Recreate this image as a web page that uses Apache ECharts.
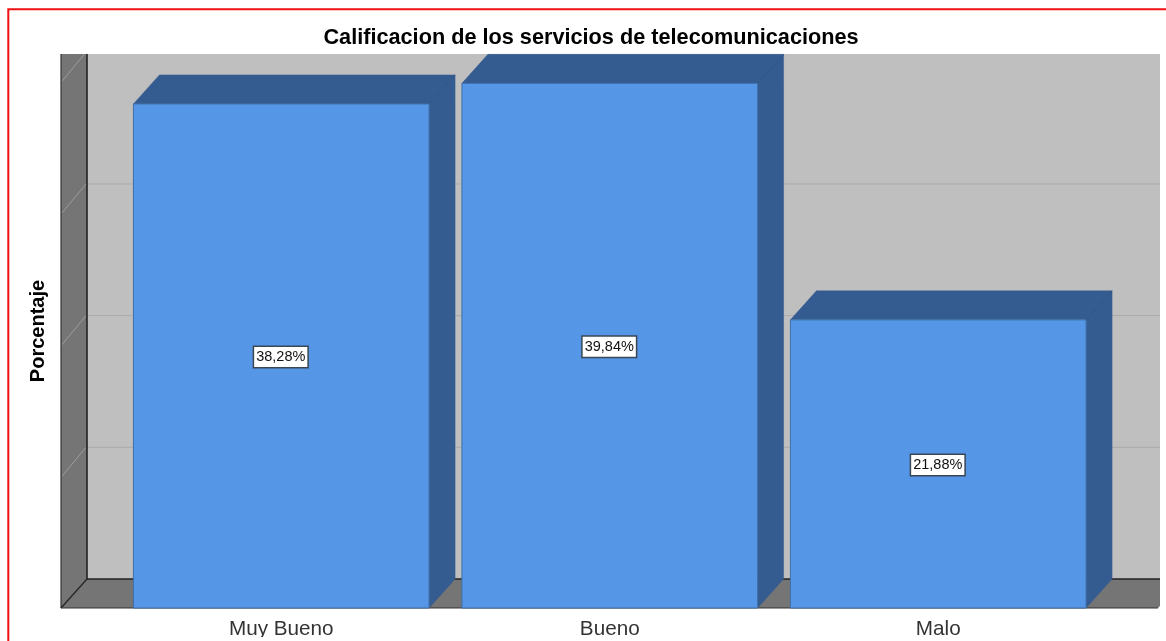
<!DOCTYPE html>
<html>
<head>
<meta charset="utf-8">
<style>html,body{margin:0;padding:0;background:#fff;overflow:hidden}#c{width:1166px;height:641px}</style>
<script src="https://cdn.jsdelivr.net/npm/echarts@6/dist/echarts.min.js"></script>
</head>
<body>
<div id="c"></div>
<script>
const categories = ['Muy Bueno', 'Bueno', 'Malo'];
const percentages = [38.28, 39.84, 21.88];
const wallTicks = [10, 20, 30, 40];
const chartTitle = 'Calificacion de los servicios de telecomunicaciones';
const valueAxisName = 'Porcentaje';

const FRONT = '#5596E6', DARK = '#345C90', EDGE = '#3F6FA8';
const WALL = '#757575', BACK = '#BFBFBF', LINE = '#222222';
const DX = 26, DY = 29, LEFT = 61, RIGHT = 1160, TOP = 54;

const chart = echarts.init(document.getElementById('c'), null, {renderer: 'canvas'});

function poly(points, fill, stroke, w) {
  return {type: 'polygon', shape: {points}, style: {fill, stroke: stroke || null, lineWidth: w || 0}};
}
function seg(x1, y1, x2, y2, stroke, w) {
  return {type: 'line', shape: {x1, y1, x2, y2}, style: {stroke, lineWidth: w}};
}

function renderFrame(params, api) {
  const base = api.coord([0, 0])[1];
  const back = base - DY;
  const kids = [
    poly([[LEFT + DX, TOP], [RIGHT, TOP], [RIGHT, back], [LEFT + DX, back]], BACK),
    poly([[LEFT, TOP], [LEFT + DX, TOP], [LEFT + DX, back], [LEFT, base]], WALL),
    poly([[LEFT, base], [LEFT + DX, back], [RIGHT, back], [RIGHT, base - 2], [RIGHT - 2, base]], WALL)
  ];
  wallTicks.forEach(function (t) {
    const y = api.coord([0, t])[1];
    const yBack = Math.max(y - DY, TOP);
    const xBack = LEFT + DX * (y - yBack) / DY;
    kids.push(seg(LEFT + 1, y, xBack - 1, yBack, '#9C9C9C', 1));
    if (y - DY >= TOP) kids.push(seg(LEFT + DX, y - DY, RIGHT, y - DY, '#ABABAB', 1));
  });
  kids.push(seg(LEFT + DX, TOP, LEFT + DX, back, LINE, 1.6));
  kids.push(seg(LEFT + DX, back, RIGHT, back, LINE, 1.6));
  kids.push(seg(LEFT, TOP, LEFT, base, '#333333', 1.2));
  kids.push(seg(LEFT, base, LEFT + DX, back, LINE, 1.2));
  kids.push(seg(LEFT, base, RIGHT - 2, base, '#333333', 1.2));
  return {type: 'group', children: kids};
}

function renderBar(params, api) {
  const catIdx = api.value(0), val = api.value(1);
  const c = api.coord([catIdx, val]);
  const b = api.coord([catIdx, 0]);
  const w = api.size([1, 0])[0] * 0.9;
  const x0 = c[0] - w / 2, x1 = c[0] + w / 2, yt = c[1], yb = b[1];
  const text = val.toFixed(2).replace('.', ',') + '%';
  return {type: 'group', children: [
    poly([[x1, yt], [x1 + DX, yt - DY], [x1 + DX, yb - DY], [x1, yb]], DARK, DARK, 0.5),
    poly([[x0, yt], [x0 + DX, yt - DY], [x1 + DX, yt - DY], [x1, yt]], DARK, DARK, 0.5),
    seg(x1, yt, x1 + DX, yt - DY, '#2C5080', 0.8),
    {type: 'rect', shape: {x: x0, y: yt, width: w, height: yb - yt},
     style: {fill: FRONT, stroke: EDGE, lineWidth: 1}},
    {type: 'text', x: c[0] - 0.5, y: (yt + yb) / 2 + 1,
     style: {text, fill: '#111111', fontSize: 14.5, fontFamily: 'Liberation Sans',
             align: 'center', verticalAlign: 'middle',
             backgroundColor: '#FFFFFF', borderColor: '#3A4654', borderWidth: 1.5,
             padding: [3, 2, 2, 2]}}
  ]};
}

chart.setOption({
  animation: false,
  backgroundColor: '#FFFFFF',
  title: {
    text: chartTitle, left: 586, top: 22, textAlign: 'center',
    textStyle: {fontFamily: 'Liberation Sans', fontSize: 21.7, fontWeight: 'bold', color: '#000'}
  },
  grid: {left: 117, right: 63.5, top: 54, bottom: 33, containLabel: false},
  xAxis: {
    type: 'category', data: categories,
    axisLine: {show: false}, axisTick: {show: false}, splitLine: {show: false},
    axisLabel: {fontFamily: 'Liberation Sans', fontSize: 20.7, color: '#333', margin: 11}
  },
  yAxis: {
    type: 'value', min: 0, max: 42.07, interval: 10,
    axisLine: {show: false}, axisTick: {show: false}, splitLine: {show: false}, axisLabel: {show: false},
    name: valueAxisName, nameLocation: 'middle', nameGap: 69, nameRotate: 90,
    nameTextStyle: {fontFamily: 'Liberation Sans', fontSize: 20, fontWeight: 'bold', color: '#000'}
  },
  series: [
    {type: 'custom', name: 'frame', silent: true, clip: false, z: 1,
     data: [[0, 0]], encode: {x: 0, y: 1}, renderItem: renderFrame},
    {type: 'custom', name: 'Porcentaje', clip: false, z: 2,
     data: percentages.map((v, i) => [i, v]), encode: {x: 0, y: 1}, renderItem: renderBar}
  ],
  graphic: [
    {type: 'polyline', z: 100, silent: true, shape: {points: [[8.3, 641], [8.3, 9.3], [1166, 9.3]]},
     style: {stroke: '#F01010', lineWidth: 2, fill: null}},
    {type: 'rect', z: 100, silent: true, shape: {x: 10, y: 637, width: 1156, height: 4}, style: {fill: '#FFFFFF'}}
  ]
});
</script>
</body>
</html>
